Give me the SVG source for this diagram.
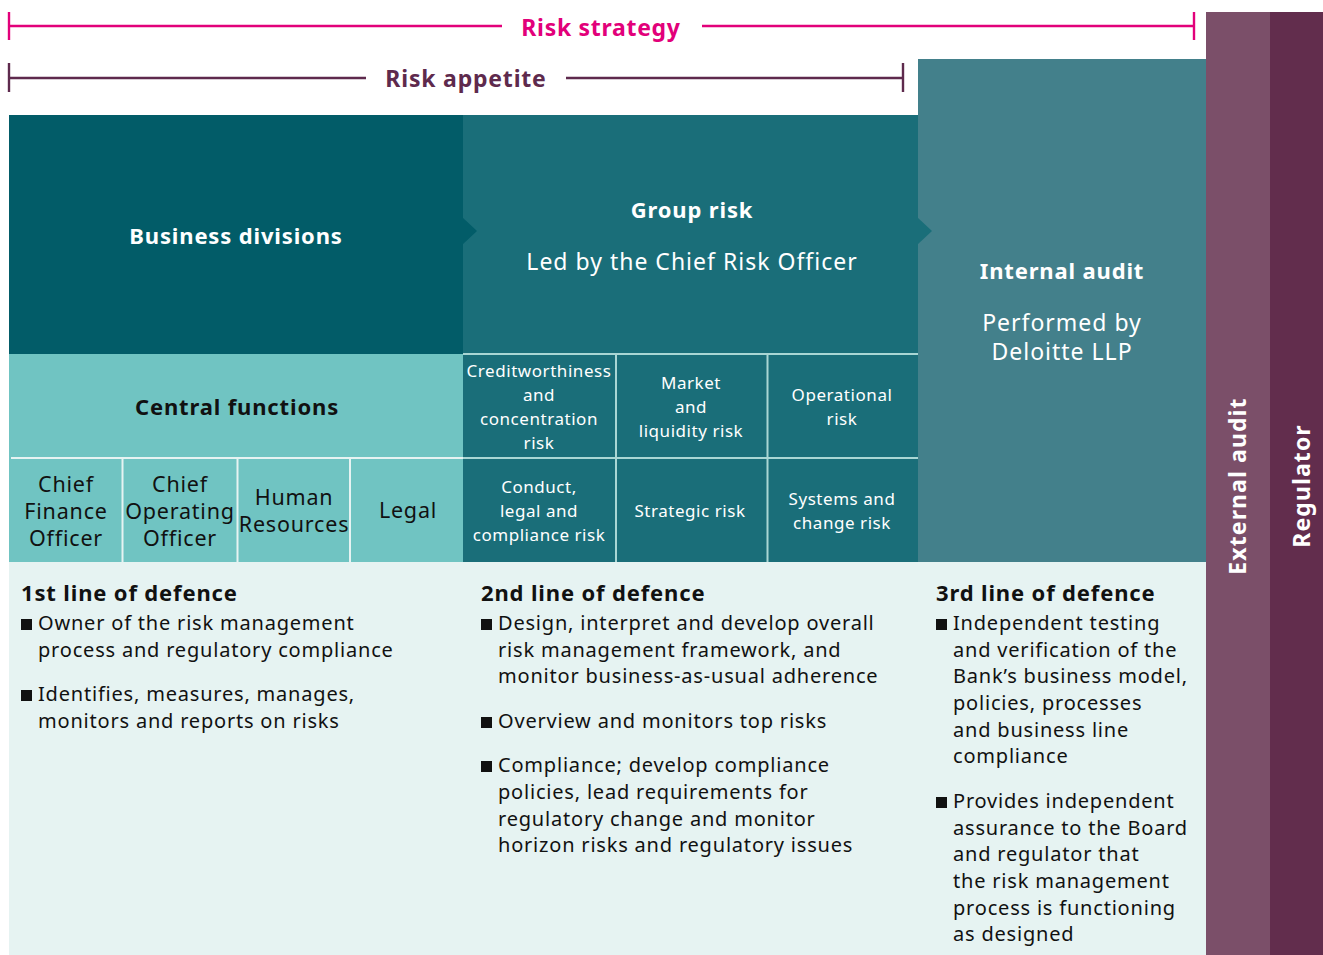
<svg xmlns="http://www.w3.org/2000/svg" width="1323" height="955" viewBox="0 0 1323 955">
<style>
text{font-family:"Noto Sans","Open Sans","Liberation Sans",sans-serif;}
.b{font-weight:700;}
.w{fill:#ffffff;}
.k{fill:#111111;}
.t22{font-size:22px;letter-spacing:0.85px;}
.t23{font-size:23px;letter-spacing:1px;}
.t21{font-size:21.5px;letter-spacing:0.8px;}
.t20{font-size:20px;letter-spacing:0.8px;}
.t17{font-size:17px;letter-spacing:0.55px;}
.c{text-anchor:middle;}
.sep{stroke:#e6f3f2;stroke-width:2;fill:none;}
.sepd{stroke:#a9d6d4;stroke-width:2;fill:none;}
.bul{fill:#111111;}
</style>
<rect x="0" y="0" width="1323" height="955" fill="#ffffff"/>

<g id="scale-lines">
  <g id="risk-strategy" stroke="#e2007a" stroke-width="2.4" fill="none">
    <line x1="9" y1="26" x2="502" y2="26"/>
    <line x1="702" y1="26" x2="1194" y2="26"/>
    <line x1="9" y1="12" x2="9" y2="40"/>
    <line x1="1194" y1="12" x2="1194" y2="40"/>
  </g>
  <text class="b c" x="601" y="36" font-size="23" letter-spacing="0.7" fill="#e2007a">Risk strategy</text>
  <g id="risk-appetite" stroke="#5e2a4d" stroke-width="2.4" fill="none">
    <line x1="9" y1="78" x2="366" y2="78"/>
    <line x1="566" y1="78" x2="903" y2="78"/>
    <line x1="9" y1="63" x2="9" y2="92"/>
    <line x1="903" y1="63" x2="903" y2="92"/>
  </g>
  <text class="b c" x="466" y="87" font-size="23" letter-spacing="0.8" fill="#5e2a4d">Risk appetite</text>
</g>

<g id="regulator">
  <rect x="1270" y="12" width="53" height="943" fill="#622d4d"/>
  <text class="b w c" transform="translate(1310 486) rotate(-90)" font-size="23" letter-spacing="1.1">Regulator</text>
</g>
<g id="external-audit">
  <rect x="1206" y="12" width="64" height="943" fill="#7b4f69"/>
  <text class="b w c" transform="translate(1246 486) rotate(-90)" font-size="23" letter-spacing="1.1">External audit</text>
</g>

<g id="defence-band">
  <rect x="9" y="562" width="1197" height="393" fill="#e6f3f2"/>
</g>

<g id="internal-audit">
  <rect x="918" y="59" width="288" height="503" fill="#43808b"/>
  <text class="b w c t22" x="1062" y="279">Internal audit</text>
  <text class="w c t23" x="1062" y="331">Performed by</text>
  <text class="w c t23" x="1062" y="360">Deloitte LLP</text>
</g>

<g id="group-risk">
  <rect x="463" y="115" width="455" height="447" fill="#1a6e79"/>
  <text class="b w c t22" x="692" y="218" letter-spacing="1.1">Group risk</text>
  <text class="w c t23" x="692" y="270">Led by the Chief Risk Officer</text>
</g>

<g id="business-divisions">
  <rect x="9" y="115" width="454" height="239" fill="#025c68"/>
  <text class="b w c t22" x="236" y="244">Business divisions</text>
</g>

<g id="connectors">
  <polygon points="462,217 477,231 462,245" fill="#025c68"/>
  <polygon points="917,217 932,231 917,245" fill="#1a6e79"/>
</g>

<g id="central-functions">
  <rect x="9" y="354" width="454" height="208" fill="#70c4c2"/>
  <text class="b k c t22" x="237" y="415" letter-spacing="1.15">Central functions</text>
  <line class="sep" x1="11" y1="458" x2="463" y2="458"/>
  <line class="sep" x1="122.5" y1="458" x2="122.5" y2="562"/>
  <line class="sep" x1="237.5" y1="458" x2="237.5" y2="562"/>
  <line class="sep" x1="350" y1="458" x2="350" y2="562"/>
</g>
<g id="cfo">
  <text class="k c t21" x="66" y="492">Chief</text>
  <text class="k c t21" x="66" y="519">Finance</text>
  <text class="k c t21" x="66" y="546">Officer</text>
</g>
<g id="coo">
  <text class="k c t21" x="180" y="492">Chief</text>
  <text class="k c t21" x="180" y="519">Operating</text>
  <text class="k c t21" x="180" y="546">Officer</text>
</g>
<g id="hr">
  <text class="k c t21" x="294" y="505">Human</text>
  <text class="k c t21" x="294" y="532">Resources</text>
</g>
<g id="legal">
  <text class="k c t21" x="408" y="518">Legal</text>
</g>

<g id="risk-cells">
  <line class="sepd" x1="463" y1="354" x2="918" y2="354"/>
  <line class="sepd" x1="463" y1="458" x2="918" y2="458"/>
  <line class="sepd" x1="616" y1="354" x2="616" y2="562"/>
  <line class="sepd" x1="767.5" y1="354" x2="767.5" y2="562"/>
</g>
<g id="credit-risk">
  <text class="w c t17" x="539" y="377">Creditworthiness</text>
  <text class="w c t17" x="539" y="401">and</text>
  <text class="w c t17" x="539" y="425">concentration</text>
  <text class="w c t17" x="539" y="449">risk</text>
</g>
<g id="market-risk">
  <text class="w c t17" x="691" y="389">Market</text>
  <text class="w c t17" x="691" y="413">and</text>
  <text class="w c t17" x="691" y="437">liquidity risk</text>
</g>
<g id="operational-risk">
  <text class="w c t17" x="842" y="401">Operational</text>
  <text class="w c t17" x="842" y="425">risk</text>
</g>
<g id="conduct-risk">
  <text class="w c t17" x="539" y="493">Conduct,</text>
  <text class="w c t17" x="539" y="517">legal and</text>
  <text class="w c t17" x="539" y="541">compliance risk</text>
</g>
<g id="strategic-risk">
  <text class="w c t17" x="690" y="517">Strategic risk</text>
</g>
<g id="systems-risk">
  <text class="w c t17" x="842" y="505">Systems and</text>
  <text class="w c t17" x="842" y="529">change risk</text>
</g>

<g id="first-line">
  <text class="b k t22" x="21" y="601">1st line of defence</text>
  <rect class="bul" x="21" y="619" width="11" height="11"/>
  <text class="k t20" x="38" y="630">Owner of the risk management</text>
  <text class="k t20" x="38" y="657">process and regulatory compliance</text>
  <rect class="bul" x="21" y="690" width="11" height="11"/>
  <text class="k t20" x="38" y="701">Identifies, measures, manages,</text>
  <text class="k t20" x="38" y="728">monitors and reports on risks</text>
</g>

<g id="second-line">
  <text class="b k t22" x="481" y="601">2nd line of defence</text>
  <rect class="bul" x="481" y="619" width="11" height="11"/>
  <text class="k t20" x="498" y="630">Design, interpret and develop overall</text>
  <text class="k t20" x="498" y="657">risk management framework, and</text>
  <text class="k t20" x="498" y="683">monitor business-as-usual adherence</text>
  <rect class="bul" x="481" y="717" width="11" height="11"/>
  <text class="k t20" x="498" y="728">Overview and monitors top risks</text>
  <rect class="bul" x="481" y="761" width="11" height="11"/>
  <text class="k t20" x="498" y="772">Compliance; develop compliance</text>
  <text class="k t20" x="498" y="799">policies, lead requirements for</text>
  <text class="k t20" x="498" y="826">regulatory change and monitor</text>
  <text class="k t20" x="498" y="852">horizon risks and regulatory issues</text>
</g>

<g id="third-line">
  <text class="b k t22" x="936" y="601">3rd line of defence</text>
  <rect class="bul" x="936" y="619" width="11" height="11"/>
  <text class="k t20" x="953" y="630">Independent testing</text>
  <text class="k t20" x="953" y="657">and verification of the</text>
  <text class="k t20" x="953" y="683">Bank’s business model,</text>
  <text class="k t20" x="953" y="710">policies, processes</text>
  <text class="k t20" x="953" y="737">and business line</text>
  <text class="k t20" x="953" y="763">compliance</text>
  <rect class="bul" x="936" y="797" width="11" height="11"/>
  <text class="k t20" x="953" y="808">Provides independent</text>
  <text class="k t20" x="953" y="835">assurance to the Board</text>
  <text class="k t20" x="953" y="861">and regulator that</text>
  <text class="k t20" x="953" y="888">the risk management</text>
  <text class="k t20" x="953" y="915">process is functioning</text>
  <text class="k t20" x="953" y="941">as designed</text>
</g>
</svg>
